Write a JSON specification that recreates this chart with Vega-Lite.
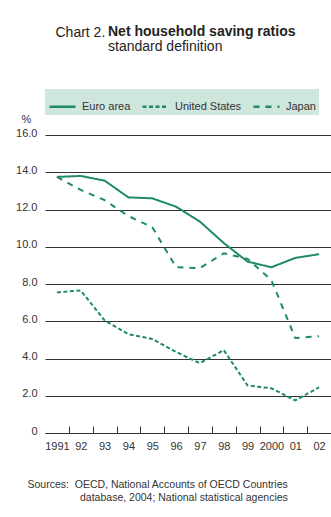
{
  "$schema": "https://vega.github.io/schema/vega-lite/v6.json",
  "width": 286,
  "height": 298,
  "autosize": {"type": "none"},
  "padding": {"left": 45, "top": 135, "right": 0, "bottom": 84},
  "background": "white",
  "title": {
    "text": "Net household saving ratios",
    "subtitle": "standard  definition",
    "anchor": "start",
    "frame": "group",
    "dx": 63,
    "offset": -29,
    "font": "Liberation Sans",
    "fontSize": 14,
    "fontWeight": "bold",
    "color": "#222222",
    "subtitleFont": "Liberation Sans",
    "subtitleFontSize": 14,
    "subtitleColor": "#222222",
    "subtitlePadding": 1
  },
  "config": {
    "view": {"stroke": null},
    "font": "Liberation Sans"
  },
  "data": {
    "values": [
      {"year": 1991, "series": "Euro area", "value": 13.75},
      {"year": 1992, "series": "Euro area", "value": 13.8},
      {"year": 1993, "series": "Euro area", "value": 13.55},
      {"year": 1994, "series": "Euro area", "value": 12.65},
      {"year": 1995, "series": "Euro area", "value": 12.6},
      {"year": 1996, "series": "Euro area", "value": 12.15},
      {"year": 1997, "series": "Euro area", "value": 11.35},
      {"year": 1998, "series": "Euro area", "value": 10.2},
      {"year": 1999, "series": "Euro area", "value": 9.2},
      {"year": 2000, "series": "Euro area", "value": 8.9},
      {"year": 2001, "series": "Euro area", "value": 9.4},
      {"year": 2002, "series": "Euro area", "value": 9.6},
      {"year": 1991, "series": "United States", "value": 7.55},
      {"year": 1992, "series": "United States", "value": 7.65},
      {"year": 1993, "series": "United States", "value": 6.05},
      {"year": 1994, "series": "United States", "value": 5.3},
      {"year": 1995, "series": "United States", "value": 5.05},
      {"year": 1996, "series": "United States", "value": 4.35},
      {"year": 1997, "series": "United States", "value": 3.75},
      {"year": 1998, "series": "United States", "value": 4.45},
      {"year": 1999, "series": "United States", "value": 2.55},
      {"year": 2000, "series": "United States", "value": 2.4},
      {"year": 2001, "series": "United States", "value": 1.75},
      {"year": 2002, "series": "United States", "value": 2.45},
      {"year": 1991, "series": "Japan", "value": 13.75},
      {"year": 1992, "series": "Japan", "value": 13.05},
      {"year": 1993, "series": "Japan", "value": 12.5},
      {"year": 1994, "series": "Japan", "value": 11.65},
      {"year": 1995, "series": "Japan", "value": 11.05},
      {"year": 1996, "series": "Japan", "value": 8.9},
      {"year": 1997, "series": "Japan", "value": 8.85},
      {"year": 1998, "series": "Japan", "value": 9.65},
      {"year": 1999, "series": "Japan", "value": 9.35},
      {"year": 2000, "series": "Japan", "value": 8.2},
      {"year": 2001, "series": "Japan", "value": 5.1},
      {"year": 2002, "series": "Japan", "value": 5.2}
    ]
  },
  "layer": [
    {
      "mark": {"type": "line", "strokeWidth": 2},
      "encoding": {
        "x": {
          "field": "year",
          "type": "quantitative",
          "scale": {"domain": [1990.5, 2002.5], "nice": false, "zero": false},
          "axis": {
            "orient": "bottom",
            "values": [1991, 1992, 1993, 1994, 1995, 1996, 1997, 1998, 1999, 2000, 2001, 2002],
            "tickOffset": 11.92,
            "labelOffset": -11.92,
            "labelFlush": false,
            "labelOverlap": false,
            "labelExpr": "(datum.value == 1991 || datum.value == 2000) ? format(datum.value, 'd') : substring(format(datum.value, 'd'), 2)",
            "grid": false,
            "domainColor": "#333333",
            "domainWidth": 1,
            "tickColor": "#333333",
            "tickWidth": 1,
            "tickSize": -7,
            "labelPadding": 14,
            "labelFont": "Liberation Sans",
            "labelFontSize": 11,
            "labelColor": "#333333",
            "title": ["Sources:\u00a0\u00a0OECD, National Accounts of OECD Countries", "\u200b\u00a0\u00a0\u00a0\u00a0\u00a0\u00a0\u00a0\u00a0\u00a0\u00a0\u00a0\u00a0\u00a0\u00a0\u00a0\u00a0\u00a0\u00a0database, 2004; National statistical agencies"],
            "titleX": -18,
            "titleY": 54,
            "titleAlign": "left",
            "titleAnchor": "start",
            "titleBaseline": "alphabetic",
            "titleLineHeight": 13,
            "titleFont": "Liberation Sans",
            "titleFontSize": 10.5,
            "titleFontWeight": "normal",
            "titleColor": "#333333"
          }
        },
        "y": {
          "field": "value",
          "type": "quantitative",
          "scale": {"domain": [0, 16], "nice": false},
          "axis": {
            "values": [0, 2, 4, 6, 8, 10, 12, 14, 16],
            "grid": true,
            "gridColor": "#333333",
            "gridWidth": 1,
            "domain": false,
            "ticks": false,
            "tickSize": 0,
            "labelPadding": 8,
            "labelExpr": "datum.value == 0 ? '0' : format(datum.value, '.1f')",
            "labelBaseline": "alphabetic",
            "labelOffset": 1,
            "labelFont": "Liberation Sans",
            "labelFontSize": 11,
            "labelColor": "#333333",
            "title": "%",
            "titleAngle": 0,
            "titleX": -19,
            "titleY": -13,
            "titleAlign": "center",
            "titleBaseline": "alphabetic",
            "titleFont": "Liberation Sans",
            "titleFontSize": 11,
            "titleFontWeight": "normal",
            "titleColor": "#333333"
          }
        },
        "color": {
          "field": "series",
          "type": "nominal",
          "scale": {"domain": ["Euro area", "United States", "Japan"], "range": ["#1f8a66", "#1f8a66", "#1f8a66"]},
          "legend": {
            "orient": "none",
            "legendX": 0,
            "legendY": -46,
            "direction": "horizontal",
            "title": null,
            "fillColor": "#cfe6dd",
            "padding": 3,
            "symbolType": "stroke",
            "symbolSize": 676,
            "symbolStrokeWidth": 2.5,
            "labelFont": "Liberation Sans",
            "labelFontSize": 11,
            "labelColor": "#333333",
            "labelOffset": 5,
            "columnPadding": 6
          }
        },
        "strokeDash": {
          "field": "series",
          "type": "nominal",
          "scale": {"domain": ["Euro area", "United States", "Japan"], "range": [[1, 0], [4, 2.5], [6, 6]]},
          "legend": {
            "orient": "none",
            "legendX": 0,
            "legendY": -46,
            "direction": "horizontal",
            "title": null,
            "fillColor": "#cfe6dd",
            "padding": 3,
            "symbolType": "stroke",
            "symbolSize": 676,
            "symbolStrokeWidth": 2.5,
            "labelFont": "Liberation Sans",
            "labelFontSize": 11,
            "labelColor": "#333333",
            "labelOffset": 5,
            "columnPadding": 6
          }
        }
      }
    },
    {
      "mark": {"type": "rule", "opacity": 0},
      "encoding": {
        "x": {
          "field": "year",
          "type": "quantitative",
          "axis": {
            "orient": "top",
            "domain": false,
            "ticks": false,
            "labels": false,
            "grid": false,
            "title": "Chart 2.",
            "titleX": 10,
            "titleY": -99,
            "titleAlign": "left",
            "titleAnchor": "start",
            "titleBaseline": "alphabetic",
            "titleFont": "Liberation Sans",
            "titleFontSize": 14,
            "titleFontWeight": "normal",
            "titleColor": "#222222"
          }
        }
      }
    }
  ],
  "resolve": {"axis": {"x": "independent"}}
}
